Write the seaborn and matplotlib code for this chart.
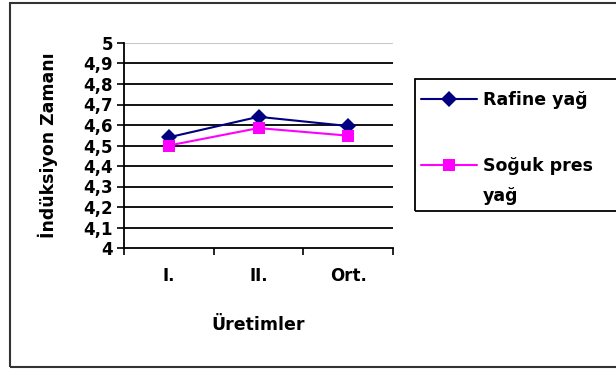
import matplotlib
matplotlib.use("Agg")
import matplotlib.pyplot as plt
import seaborn as sns
import pandas as pd
from matplotlib.patches import Rectangle

categories = ["I.", "II.", "Ort."]
rafine = [4.54, 4.64, 4.595]
soguk = [4.50, 4.585, 4.548]
series_names = ["Rafine yağ", "Soğuk pres"]
y_ticks = [4.0, 4.1, 4.2, 4.3, 4.4, 4.5, 4.6, 4.7, 4.8, 4.9, 5.0]
y_tick_labels = ["4", "4,1", "4,2", "4,3", "4,4", "4,5", "4,6", "4,7", "4,8", "4,9", "5"]

df = pd.DataFrame({
    "Üretim": categories * 2,
    "pos": list(range(len(categories))) * 2,
    "Değer": rafine + soguk,
    "Seri": [series_names[0]] * 3 + [series_names[1]] * 3,
})

sns.set_theme(style="white")
plt.rcParams["font.family"] = ["DejaVu Sans"]
plt.rcParams["font.weight"] = "bold"
plt.rcParams["text.color"] = "black"
plt.rcParams["axes.labelcolor"] = "black"
plt.rcParams["xtick.color"] = "black"
plt.rcParams["ytick.color"] = "black"

FS_TICK = 12
FS_LAB = 12.5

fig = plt.figure(figsize=(6.16, 3.70), dpi=100)
ax = fig.add_axes([124 / 616, 1 - 248 / 370, (393 - 124) / 616, (248 - 43) / 370])

palette = {series_names[0]: "#000080", series_names[1]: "#FF00FF"}
markers = {series_names[0]: "D", series_names[1]: "s"}
sns.lineplot(data=df, x="pos", y="Değer", hue="Seri", style="Seri",
             palette=palette, markers=markers, dashes=False,
             markersize=8.5, linewidth=1.5, markeredgewidth=0, ax=ax, zorder=3)

ax.set_xlim(-0.5, 2.5)
ax.set_ylim(4.0, 5.0)
ax.set_yticks(y_ticks)
ax.set_yticklabels(y_tick_labels, fontsize=FS_TICK, fontweight="bold", color="black")
ax.set_xticks([-0.5, 0.5, 1.5, 2.5])
ax.set_xticklabels([])
ax.set_xticks(range(len(categories)), minor=True)
ax.set_xticklabels(categories, minor=True, fontsize=FS_TICK, fontweight="bold", color="black")
ax.tick_params(axis="x", which="major", direction="out", length=5, width=1.2, color="black", bottom=True)
ax.tick_params(axis="x", which="minor", length=0, pad=14)
ax.tick_params(axis="y", direction="out", length=5, width=1.2, color="black", left=True, pad=3)

for v in y_ticks[1:-1]:
    ax.axhline(v, color="black", linewidth=1.3, zorder=1)
ax.axhline(5.0, color="#c0c0c0", linewidth=1.3, zorder=1)

for s in ["top", "right"]:
    ax.spines[s].set_visible(False)
for s in ["left", "bottom"]:
    ax.spines[s].set_color("black")
    ax.spines[s].set_linewidth(1.3)

ax.set_xlabel("Üretimler", fontsize=FS_LAB, fontweight="bold", labelpad=22, color="black")
ax.set_ylabel("İndüksiyon Zamanı", fontsize=FS_LAB, fontweight="bold", labelpad=18, color="black")

handles, labels = ax.get_legend_handles_labels()
leg = ax.legend(handles, labels, loc="upper left", bbox_to_anchor=(421 / 616, 1 - 91 / 370),
                bbox_transform=fig.transFigure, frameon=False,
                prop={"family": "DejaVu Sans", "weight": "bold", "size": FS_LAB},
                handlelength=3.2, handletextpad=0.35, labelspacing=2.78, borderpad=0, borderaxespad=0)
for t in leg.get_texts():
    t.set_color("black")
fig.text(483 / 616, 1 - 196 / 370, "yağ", fontsize=FS_LAB, fontweight="bold", va="center", ha="left",
         color="black")

fig.patches.append(Rectangle((415 / 616, 1 - 211 / 370), 0.5, (211 - 79) / 370,
                             transform=fig.transFigure, fill=False, edgecolor="black",
                             linewidth=1.3, figure=fig))
fig.patches.append(Rectangle((10 / 616, 3 / 370), 1.0, 364 / 370,
                             transform=fig.transFigure, fill=False, edgecolor="#333333",
                             linewidth=1.5, figure=fig))

fig.savefig("out.png", dpi=100)
